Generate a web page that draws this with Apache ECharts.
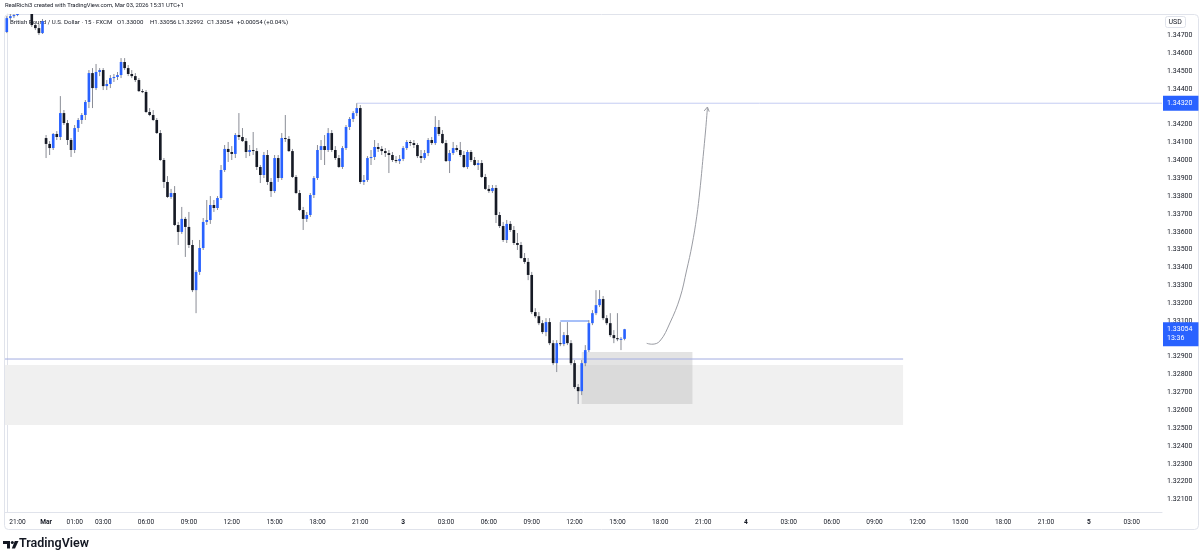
<!DOCTYPE html>
<html>
<head>
<meta charset="utf-8">
<script src="https://cdn.jsdelivr.net/npm/echarts@6/dist/echarts.min.js"></script>
<style>html,body{margin:0;padding:0;background:#fff}#c{width:1200px;height:560px}</style>
</head>
<body>
<div id="c"></div>
<script>
// ---------------- DATA (GBP/USD, 15 min, FXCM, UTC+1) ----------------
const open = [
1.34719,1.34797,1.34808,1.34814,1.34870,1.34900,1.34880,1.34850,1.34758,1.34741,1.34713,
1.34125,1.34092,1.34069,1.34148,1.34131,1.34265,1.34209,1.34114,1.34058,1.34181,
1.34226,1.34254,1.34327,1.34489,1.34405,1.34495,1.34506,1.34416,1.34428,1.34461,
1.34467,1.34478,1.34551,1.34517,1.34484,1.34472,1.34450,1.34388,1.34383,1.34271,
1.34254,1.34226,1.34153,1.34002,1.33879,1.33795,1.33817,1.33638,1.33599,1.33672,
1.33627,1.33526,1.33273,1.33375,1.33509,1.33655,1.33666,1.33750,1.33733,1.33789,
1.33946,1.34064,1.34047,1.34036,1.34142,1.34131,1.34108,1.34047,1.34058,1.34052,
1.33963,1.33918,1.34030,1.33879,1.33828,1.34013,1.33901,1.34125,1.34120,1.34052,
1.33907,1.33817,1.33722,1.33672,1.33694,1.33806,1.33901,1.34058,1.34080,1.34058,
1.34153,1.34058,1.34013,1.33963,1.34069,1.34187,1.34232,1.34265,1.34293,1.33879,
1.33890,1.34013,1.34019,1.34075,1.34064,1.34052,1.34041,1.34030,1.34002,1.33996,
1.34008,1.34069,1.34103,1.34097,1.34086,1.34024,1.34013,1.34041,1.34114,1.34097,
1.34187,1.34148,1.34097,1.33996,1.34041,1.34069,1.34058,1.34030,1.33963,1.34047,
1.34002,1.33974,1.33985,1.33907,1.33840,1.33828,1.33845,1.33694,1.33632,1.33554,
1.33644,1.33610,1.33537,1.33526,1.33453,1.33431,1.33358,1.33150,1.33127,1.33088,
1.33038,1.33094,1.32976,1.32864,1.32976,1.32971,1.33021,1.32976,1.32864,1.32730,
1.32707,1.32864,1.32937,1.33088,1.33144,1.33189,1.33223,1.33116,1.33088,1.33021,
1.33004,1.32998,1.33000
];
const close = [
1.34797,1.34808,1.34814,1.34870,1.34900,1.34880,1.34850,1.34758,1.34741,1.34713,1.34780,
1.34092,1.34069,1.34148,1.34131,1.34265,1.34209,1.34114,1.34058,1.34181,1.34226,
1.34254,1.34327,1.34489,1.34405,1.34495,1.34506,1.34416,1.34428,1.34461,1.34467,
1.34478,1.34551,1.34517,1.34484,1.34472,1.34450,1.34388,1.34383,1.34271,1.34254,
1.34226,1.34153,1.34002,1.33879,1.33795,1.33817,1.33638,1.33599,1.33672,1.33627,
1.33526,1.33273,1.33375,1.33509,1.33655,1.33666,1.33750,1.33733,1.33789,1.33946,
1.34064,1.34047,1.34036,1.34142,1.34131,1.34108,1.34047,1.34058,1.34052,1.33963,
1.33918,1.34030,1.33879,1.33828,1.34013,1.33901,1.34125,1.34120,1.34052,1.33907,
1.33817,1.33722,1.33672,1.33694,1.33806,1.33901,1.34058,1.34080,1.34058,1.34153,
1.34058,1.34013,1.33963,1.34069,1.34187,1.34232,1.34265,1.34293,1.33879,1.33890,
1.34013,1.34019,1.34075,1.34064,1.34052,1.34041,1.34030,1.34002,1.33996,1.34008,
1.34069,1.34103,1.34097,1.34086,1.34024,1.34013,1.34041,1.34114,1.34097,1.34187,
1.34148,1.34097,1.33996,1.34041,1.34069,1.34058,1.34030,1.33963,1.34047,1.34002,
1.33974,1.33985,1.33907,1.33840,1.33828,1.33845,1.33694,1.33632,1.33554,1.33644,
1.33610,1.33537,1.33526,1.33453,1.33431,1.33358,1.33150,1.33127,1.33088,1.33038,
1.33094,1.32976,1.32864,1.32976,1.32971,1.33021,1.32976,1.32864,1.32730,1.32707,
1.32864,1.32937,1.33088,1.33144,1.33189,1.33223,1.33116,1.33088,1.33021,1.33004,
1.32998,1.33000,1.33054
];
const low = [
1.34713,1.34786,1.34797,1.34808,1.34860,1.34870,1.34840,1.34747,1.34730,1.34702,1.34708,
1.34013,1.34030,1.34058,1.34114,1.34114,1.34198,1.34086,1.34019,1.34041,1.34159,
1.34204,1.34226,1.34293,1.34293,1.34394,1.34472,1.34394,1.34394,1.34405,1.34439,
1.34450,1.34461,1.34506,1.34472,1.34461,1.34439,1.34383,1.34377,1.34265,1.34248,
1.34220,1.34148,1.33996,1.33845,1.33789,1.33784,1.33632,1.33526,1.33588,1.33459,
1.33509,1.33262,1.33144,1.33358,1.33498,1.33638,1.33644,1.33711,1.33722,1.33778,
1.33935,1.33991,1.34002,1.34013,1.34114,1.34103,1.34013,1.34024,1.34030,1.33946,
1.33873,1.33901,1.33862,1.33795,1.33817,1.33879,1.33890,1.34103,1.34047,1.33901,
1.33811,1.33716,1.33610,1.33655,1.33683,1.33789,1.33890,1.34002,1.33974,1.34047,
1.34047,1.34002,1.33957,1.33952,1.34058,1.34170,1.34215,1.34248,1.33868,1.33862,
1.33879,1.33974,1.34002,1.34047,1.34030,1.34019,1.33929,1.33991,1.33985,1.33980,
1.33996,1.34058,1.34080,1.34069,1.34013,1.33985,1.34002,1.34024,1.34086,1.34086,
1.34136,1.34092,1.33991,1.33929,1.34030,1.34047,1.34019,1.33957,1.33952,1.33991,
1.33968,1.33946,1.33901,1.33834,1.33817,1.33817,1.33649,1.33621,1.33543,1.33537,
1.33599,1.33526,1.33498,1.33448,1.33420,1.33329,1.33139,1.33116,1.33077,1.33027,
1.33015,1.32965,1.32853,1.32814,1.32959,1.32959,1.32965,1.32853,1.32719,1.32635,
1.32685,1.32847,1.32926,1.33077,1.33133,1.33178,1.33105,1.33077,1.33010,1.32976,
1.32987,1.32937,1.32992
];
const high = [
1.34808,1.34831,1.34842,1.34885,1.34920,1.34915,1.34890,1.34860,1.34775,1.34764,1.34792,
1.34142,1.34108,1.34153,1.34164,1.34360,1.34282,1.34226,1.34125,1.34198,1.34237,
1.34265,1.34338,1.34506,1.34517,1.34540,1.34517,1.34517,1.34450,1.34478,1.34484,
1.34495,1.34573,1.34573,1.34534,1.34506,1.34489,1.34461,1.34400,1.34394,1.34293,
1.34282,1.34237,1.34170,1.34013,1.33912,1.33840,1.33856,1.33655,1.33739,1.33683,
1.33711,1.33554,1.33386,1.33554,1.33677,1.33778,1.33800,1.33778,1.33800,1.33974,
1.34086,1.34103,1.34080,1.34153,1.34265,1.34181,1.34125,1.34086,1.34159,1.34069,
1.33974,1.34047,1.34058,1.33901,1.34030,1.34030,1.34153,1.34254,1.34136,1.34064,
1.33918,1.33834,1.33739,1.33711,1.33817,1.33912,1.34086,1.34114,1.34142,1.34181,
1.34170,1.34080,1.34030,1.34080,1.34198,1.34243,1.34276,1.34320,1.34310,1.33918,
1.34024,1.34058,1.34114,1.34097,1.34080,1.34069,1.34058,1.34047,1.34024,1.34030,
1.34080,1.34114,1.34114,1.34114,1.34097,1.34058,1.34058,1.34125,1.34131,1.34248,
1.34226,1.34170,1.34114,1.34058,1.34103,1.34086,1.34103,1.34052,1.34058,1.34058,
1.34019,1.34002,1.34002,1.33924,1.33862,1.33862,1.33862,1.33711,1.33655,1.33666,
1.33660,1.33632,1.33593,1.33543,1.33481,1.33453,1.33375,1.33172,1.33150,1.33105,
1.33116,1.33116,1.32993,1.32993,1.33094,1.33038,1.33094,1.32993,1.32881,1.32747,
1.32881,1.32965,1.33105,1.33161,1.33273,1.33273,1.33240,1.33133,1.33144,1.33049,
1.33144,1.33010,1.33056
];

// time-axis tick labels (category index -> label)
const tickIndex = [3,11,19,27,39,51,63,75,87,99,111,123,135,147,159,171,183,195,207,219,231,243,255,267,279,291,303,315];
const tickText  = ['21:00','Mar','01:00','03:00','06:00','09:00','12:00','15:00','18:00','21:00','3','03:00','06:00','09:00','12:00','15:00','18:00','21:00','4','03:00','06:00','09:00','12:00','15:00','18:00','21:00','5','03:00'];
const boldTicks = ['Mar','3','4','5'];

// legend texts
const symbolText = 'British Pound / U.S. Dollar · 15 · FXCM';
const legendValues = ['O1.33000', 'H1.33056', 'L1.32992', 'C1.33054', '+0.00054 (+0.04%)'];

// drawings (bar index, price)
const resistance = 1.34320;
const resistanceStart = 98;
const supportLine = 1.32887;
const supportEnd = 251;
const zoneTop = 1.32854, zoneBottom = 1.32518;
const boxFrom = 161, boxTo = 192, boxTop = 1.32927, boxBottom = 1.32635;
const miniLine = {from: 155, to: 163, price: 1.33100};
const arrowPath = [[179.2,1.32975],[180.6,1.32970],[182.9,1.32988],[185.7,1.33089],[188.5,1.33229],[190.4,1.33386],[191.9,1.33526],[193.2,1.33684],[194.1,1.33834],[195.0,1.34021],[195.7,1.34170],[196.2,1.34293]];
const arrowHead = [[195.3,1.34277],[196.2,1.34299],[196.7,1.34273]];
const lastPrice = 1.33054, countdown = '13:36';

// ---------------- categories (15-min bars) ----------------
const N = 324;
const categories = [];
(function () {
  const pad = n => String(n).padStart(2, '0');
  const fmt = t => { const d = new Date(t); return d.getUTCFullYear() + '-' + pad(d.getUTCMonth() + 1) + '-' + pad(d.getUTCDate()) + ' ' + pad(d.getUTCHours()) + ':' + pad(d.getUTCMinutes()); };
  let t = Date.UTC(2026, 1, 27, 20, 15);
  for (let i = 0; i < 11; i++) { categories.push(fmt(t)); t += 900000; }
  t = Date.UTC(2026, 2, 1, 23, 0);
  while (categories.length < N) { categories.push(fmt(t)); t += 900000; }
})();

const tickMap = new Map(tickIndex.map((k, i) => [k, tickText[i]]));
const rows = open.map((o, i) => [i, o, close[i], low[i], high[i]]);

const UP = '#2962ff', DOWN = '#161a25', WICK = '#8a8d96';
const FONT = 'Roboto, "Noto Sans", sans-serif';
const FS = 7;

function renderCandle(params, api) {
  const i = api.value(0), o = api.value(1), c = api.value(2), l = api.value(3), h = api.value(4);
  const pO = api.coord([i, o]), pC = api.coord([i, c]), pL = api.coord([i, l]), pH = api.coord([i, h]);
  const band = api.size([1, 0])[0];
  const bw = Math.max(1, band * 0.74);
  const cx = pO[0];
  const top = Math.min(pO[1], pC[1]);
  const hh = Math.max(1, Math.abs(pO[1] - pC[1]));
  return {
    type: 'group',
    children: [
      { type: 'line', shape: { x1: cx, y1: pH[1], x2: cx, y2: pL[1] }, style: { stroke: WICK, lineWidth: 1 } },
      { type: 'rect', shape: { x: cx - bw / 2, y: top, width: bw, height: hh }, style: { fill: c >= o ? UP : DOWN } }
    ]
  };
}

// straight drawing line as a 2-point line series on the bar-index value axis
function segment(name, x1, x2, price, color) {
  return { name, type: 'line', xAxisIndex: 1, yAxisIndex: 0, z: 2, clip: false, silent: true,
           data: [[x1, price], [x2, price]], showSymbol: false, symbol: 'none',
           lineStyle: { color, width: 1, type: 'solid' }, itemStyle: { color } };
}
// axis price tag: transparent markLine between two points, label at its end (price axis)
function priceTag(name, x1, price, text, offsetY) {
  return { name, type: 'line', xAxisIndex: 1, yAxisIndex: 0, z: 6, clip: false, silent: true,
           data: [], showSymbol: false,
           markLine: { silent: true, symbol: ['none', 'none'], animation: false,
             lineStyle: { color: 'rgba(0,0,0,0)', width: 1, type: 'solid' },
             label: { show: true, position: 'end', distance: 1, formatter: text,
                      backgroundColor: '#2962ff', color: '#fff', fontSize: FS, lineHeight: 9,
                      padding: [3, 6, 3, 4], offset: [0, offsetY], fontFamily: FONT },
             data: [[{ coord: [x1, price] }, { coord: [N - 0.5, price] }]] } };
}

const legendX = [117, 150, 178, 207, 237];
const legendGraphics = legendValues.map((t, i) => ({
  type: 'text', silent: true, z: 0, left: legendX[i], top: 19,
  style: { text: t, fill: '#131722', font: '6.1px ' + FONT }
}));

const chart = echarts.init(document.getElementById('c'));
chart.setOption({
  animation: false,
  backgroundColor: '#ffffff',
  textStyle: { fontFamily: FONT },
  grid: { left: 5, right: 38, top: 14, bottom: 48, containLabel: false },
  xAxis: [
    {
      type: 'category', data: categories, boundaryGap: true,
      axisLine: { show: true, lineStyle: { color: '#e0e3eb' } },
      axisTick: { show: false },
      splitLine: { show: false },
      axisLabel: {
        interval: (idx) => tickMap.has(idx),
        margin: 7, fontSize: 6.6, color: '#131722', fontFamily: FONT,
        formatter: (val, idx) => { const t = tickMap.get(idx) || ''; return boldTicks.includes(t) ? '{b|' + t + '}' : t; },
        rich: { b: { fontWeight: 'bold', fontSize: 6.6, color: '#131722', fontFamily: FONT } }
      }
    },
    { type: 'value', min: -0.5, max: N - 0.5, show: false }
  ],
  yAxis: {
    type: 'value', position: 'right', min: 1.3203, max: 1.3482, interval: 0.0001,
    axisLine: { show: true, lineStyle: { color: '#e0e3eb' } },
    axisTick: { show: false }, splitLine: { show: false },
    axisLabel: {
      margin: 5, fontSize: FS, color: '#131722', fontFamily: FONT,
      formatter: v => (Math.round(v * 10000) % 10 === 0 && v < 1.3475 && v > 1.3205) ? v.toFixed(5) : ''
    }
  },
  series: [
    {
      name: 'zones', type: 'line', xAxisIndex: 1, yAxisIndex: 0, z: 1, clip: false, silent: true,
      data: [], showSymbol: false,
      markArea: {
        silent: true,
        data: [
          [{ coord: [-0.5, zoneTop], itemStyle: { color: '#f0f0f0' } }, { coord: [supportEnd, zoneBottom] }],
          [{ coord: [boxFrom, boxTop], itemStyle: { color: 'rgba(185,185,185,0.40)' } }, { coord: [boxTo, boxBottom] }]
        ]
      }
    },
    segment('resistance', resistanceStart, N - 0.5, resistance, '#c5cdf3'),
    segment('support', -0.5, supportEnd, supportLine, '#a3ade2'),
    segment('mini', miniLine.from, miniLine.to, miniLine.price, '#4f80f2'),
    priceTag('resistanceTag', resistanceStart, resistance, resistance.toFixed(5), 0),
    priceTag('lastTag', -0.5, lastPrice, lastPrice.toFixed(5) + '\n' + countdown, 5),
    {
      name: 'arrow', type: 'line', xAxisIndex: 1, yAxisIndex: 0, z: 2, clip: false,
      data: arrowPath, smooth: 0.4, showSymbol: false, silent: true,
      lineStyle: { color: '#9a9ca3', width: 1 }
    },
    {
      name: 'arrowhead', type: 'line', xAxisIndex: 1, yAxisIndex: 0, z: 2, clip: false,
      data: arrowHead, showSymbol: false, silent: true,
      lineStyle: { color: '#9a9ca3', width: 1 }
    },
    {
      name: 'GBPUSD', type: 'custom', xAxisIndex: 0, yAxisIndex: 0, z: 5, clip: true,
      renderItem: renderCandle, encode: { x: 0, y: [1, 2, 3, 4] }, data: rows
    }
  ],
  graphic: [
    { type: 'rect', silent: true, z: -10, shape: { x: 4.5, y: 14.5, width: 1194, height: 515, r: 4 },
      style: { fill: 'none', stroke: '#e0e3eb', lineWidth: 1 } },
    { type: 'text', silent: true, z: 0, left: 5, top: 2.5,
      style: { text: 'RealRichi3 created with TradingView.com, Mar 03, 2026 15:31 UTC+1', fill: '#131722', font: '5.85px ' + FONT } },
    { type: 'text', silent: true, z: 0, left: 10, top: 19,
      style: { text: symbolText, fill: '#131722', font: '6.1px ' + FONT } },
    ...legendGraphics,
    { type: 'rect', silent: true, z: 0, shape: { x: 1165.5, y: 16.5, width: 20, height: 11, r: 2 },
      style: { fill: '#fff', stroke: '#e0e3eb', lineWidth: 1 } },
    { type: 'text', silent: true, z: 1, left: 1168.5, top: 19,
      style: { text: 'USD', fill: '#131722', font: '7px ' + FONT } },
    { type: 'polygon', silent: true, shape: { points: [[3, 541], [10, 541], [10, 548.5], [7, 548.5], [7, 544], [3, 544]] }, style: { fill: '#131722' } },
    { type: 'circle', silent: true, shape: { cx: 12.3, cy: 542.5, r: 1.5 }, style: { fill: '#131722' } },
    { type: 'polygon', silent: true, shape: { points: [[14.8, 541], [18.5, 541], [15, 548.5], [11.8, 548.5]] }, style: { fill: '#131722' } },
    { type: 'text', silent: true, left: 19, top: 537.5,
      style: { text: 'TradingView', fill: '#131722', font: '600 12.5px ' + FONT } }
  ]
});
</script>
</body>
</html>
